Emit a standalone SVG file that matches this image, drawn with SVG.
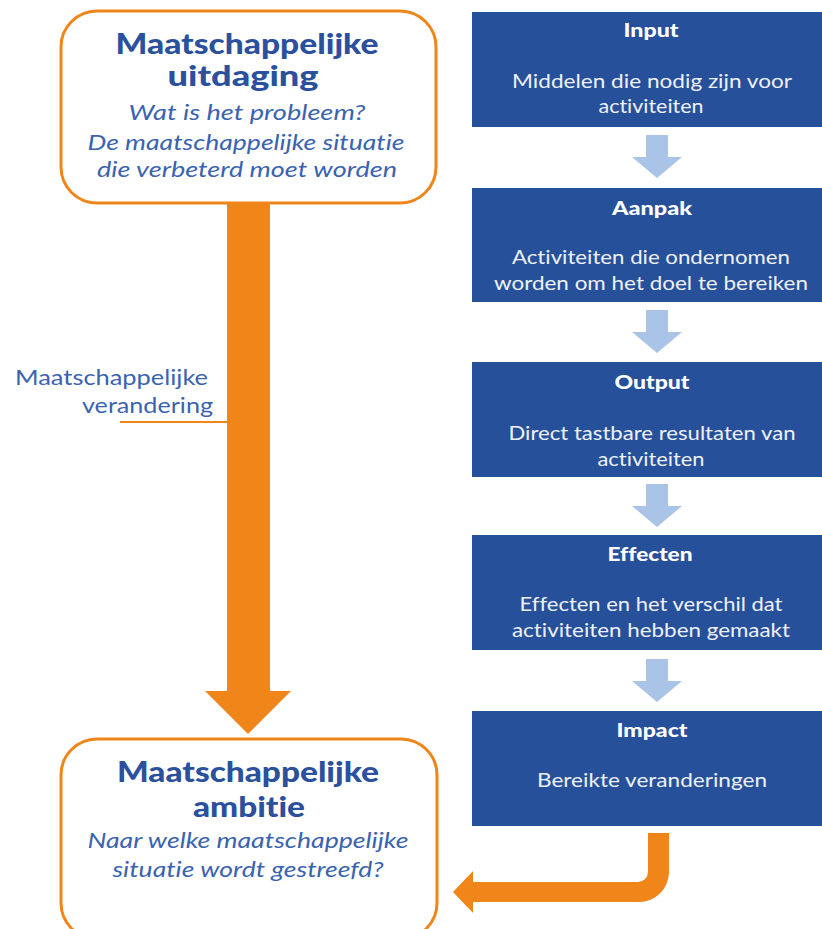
<svg xmlns="http://www.w3.org/2000/svg" width="822" height="929" viewBox="0 0 822 929">
<style>
text{font-variant-ligatures:none}
.obox{fill:#fff;stroke:#F0861A;stroke-width:3}
.bbox{fill:#27509B}
.h1{font-family:Lato,"Liberation Sans",sans-serif;font-weight:900;font-size:29px;fill:#2A509E;text-anchor:middle}
.it{font-family:Lato,"Liberation Sans",sans-serif;font-style:italic;font-size:22px;fill:#3A63B0;text-anchor:middle}
.bt{font-family:Lato,"Liberation Sans",sans-serif;font-weight:900;font-size:19px;fill:#fff;text-anchor:middle}
.bd{font-family:Lato,"Liberation Sans",sans-serif;font-size:20px;fill:#EEF1F8;text-anchor:middle}
.lbl{font-family:Lato,"Liberation Sans",sans-serif;font-size:21px;fill:#3A63B0;text-anchor:end}
.la{fill:#A9C4E6}
.oa{fill:#F0861A}
</style>
<defs>
<path id="la" d="M-11,0 H11 V22 H25 L0,43 L-25,22 H-11 Z"/>
</defs>
<g id="connectors">
<path class="oa" d="M227,203 H270 V691 H291 L248,734 L205,691 H227 Z"/>
<line x1="120" y1="422" x2="228" y2="422" stroke="#F0861A" stroke-width="2"/>
<use href="#la" class="la" x="657" y="135"/>
<use href="#la" class="la" x="657" y="310"/>
<use href="#la" class="la" x="657" y="484"/>
<use href="#la" class="la" x="657" y="659"/>
<path class="oa" d="M648,833 H669 V872 A30,30 0 0 1 639,902 H473 V913 L453,892 L473,871 V882 H638 A10,10 0 0 0 648,872 Z"/>
</g>
<g id="uitdaging">
<rect class="obox" x="61" y="11" width="375" height="192" rx="36"/>
<text class="h1" x="247" y="54" textLength="263" lengthAdjust="spacingAndGlyphs">Maatschappelijke</text>
<text class="h1" x="243" y="86" textLength="151" lengthAdjust="spacingAndGlyphs">uitdaging</text>
<text class="it" x="247" y="120" textLength="237" lengthAdjust="spacingAndGlyphs">Wat is het probleem?</text>
<text class="it" x="246" y="150" textLength="317" lengthAdjust="spacingAndGlyphs">De maatschappelijke situatie</text>
<text class="it" x="247" y="177" textLength="300" lengthAdjust="spacingAndGlyphs">die verbeterd moet worden</text>
</g>
<g id="ambitie">
<rect class="obox" x="61" y="739" width="376" height="200" rx="36"/>
<text class="h1" x="248" y="782" textLength="262" lengthAdjust="spacingAndGlyphs">Maatschappelijke</text>
<text class="h1" x="249" y="817" textLength="112" lengthAdjust="spacingAndGlyphs">ambitie</text>
<text class="it" x="248" y="848" textLength="321" lengthAdjust="spacingAndGlyphs">Naar welke maatschappelijke</text>
<text class="it" x="248" y="877" textLength="271" lengthAdjust="spacingAndGlyphs">situatie wordt gestreefd?</text>
</g>
<g id="verandering">
<text class="lbl" x="208" y="385" textLength="193" lengthAdjust="spacingAndGlyphs">Maatschappelijke</text>
<text class="lbl" x="213" y="413" textLength="131" lengthAdjust="spacingAndGlyphs">verandering</text>
</g>
<g id="input">
<rect class="bbox" x="472" y="12" width="350" height="115"/>
<text class="bt" x="651" y="37" textLength="55" lengthAdjust="spacingAndGlyphs">Input</text>
<text class="bd" x="652" y="88" textLength="280" lengthAdjust="spacingAndGlyphs">Middelen die nodig zijn voor</text>
<text class="bd" x="651" y="113" textLength="105" lengthAdjust="spacingAndGlyphs">activiteiten</text>
</g>
<g id="aanpak">
<rect class="bbox" x="472" y="188" width="350" height="114"/>
<text class="bt" x="652" y="215" textLength="80" lengthAdjust="spacingAndGlyphs">Aanpak</text>
<text class="bd" x="651" y="264" textLength="278" lengthAdjust="spacingAndGlyphs">Activiteiten die ondernomen</text>
<text class="bd" x="651" y="290" textLength="314" lengthAdjust="spacingAndGlyphs">worden om het doel te bereiken</text>
</g>
<g id="output">
<rect class="bbox" x="472" y="362" width="350" height="115"/>
<text class="bt" x="652" y="389" textLength="75" lengthAdjust="spacingAndGlyphs">Output</text>
<text class="bd" x="652" y="440" textLength="287" lengthAdjust="spacingAndGlyphs">Direct tastbare resultaten van</text>
<text class="bd" x="651" y="466" textLength="107" lengthAdjust="spacingAndGlyphs">activiteiten</text>
</g>
<g id="effecten">
<rect class="bbox" x="472" y="535" width="350" height="115"/>
<text class="bt" x="650" y="561" textLength="85" lengthAdjust="spacingAndGlyphs">Effecten</text>
<text class="bd" x="651" y="611" textLength="263" lengthAdjust="spacingAndGlyphs">Effecten en het verschil dat</text>
<text class="bd" x="651" y="637" textLength="278" lengthAdjust="spacingAndGlyphs">activiteiten hebben gemaakt</text>
</g>
<g id="impact">
<rect class="bbox" x="472" y="711" width="350" height="115"/>
<text class="bt" x="652" y="737" textLength="71" lengthAdjust="spacingAndGlyphs">Impact</text>
<text class="bd" x="652" y="787" textLength="230" lengthAdjust="spacingAndGlyphs">Bereikte veranderingen</text>
</g>
</svg>
